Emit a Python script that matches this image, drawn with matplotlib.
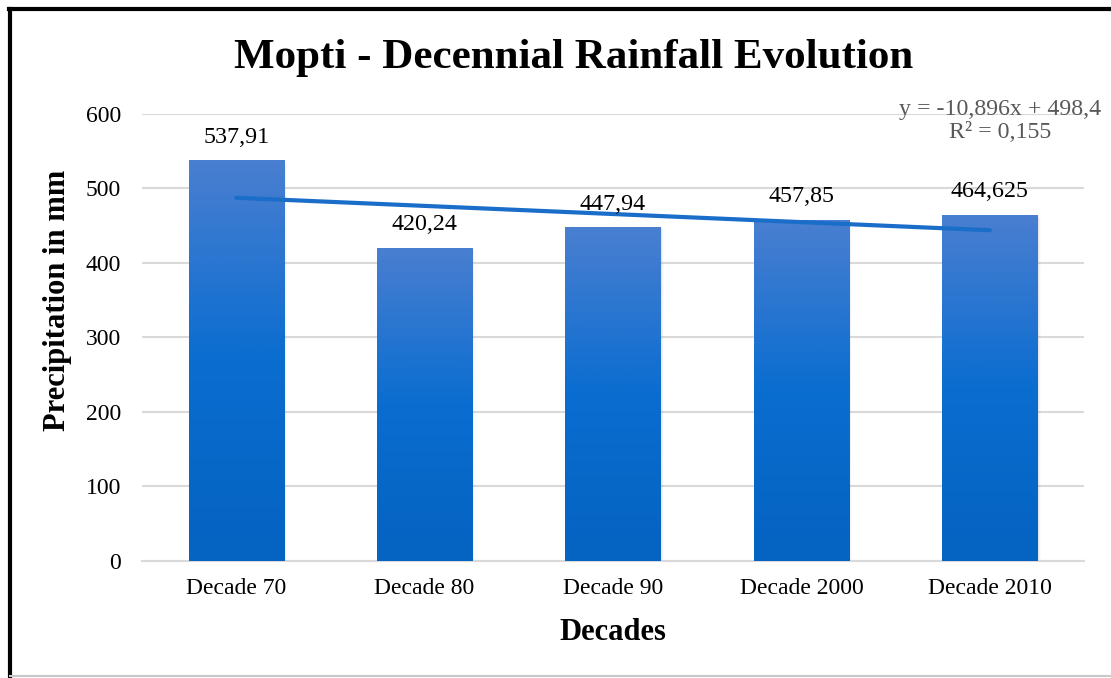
import numpy as np
import matplotlib
matplotlib.use('Agg')
import matplotlib.pyplot as plt
from matplotlib.colors import LinearSegmentedColormap
from matplotlib.patches import Rectangle
from matplotlib.lines import Line2D

# data
decades = ['Decade 70', 'Decade 80', 'Decade 90', 'Decade 2000', 'Decade 2010']
rain = [537.91, 420.24, 447.94, 457.85, 464.625]
rain_labels = ['537,91', '420,24', '447,94', '457,85', '464,625']
yticks = [0, 100, 200, 300, 400, 500, 600]
trend_slope = -10.896
trend_icpt = 498.4

plt.rcParams['font.family'] = ['Liberation Serif', 'DejaVu Serif']

fig = plt.figure(figsize=(11.11, 6.78), dpi=100)
ax = fig.add_axes([0.1278, 0.1726, 0.8479, 0.6593])

x = np.arange(len(decades))
w = 0.505
bars = ax.bar(x, rain, width=w, color='none', zorder=3)

# gradient fill + soft shadow
cmap = LinearSegmentedColormap.from_list('g', ['#0563c1', '#0a6dd0', '#4a7fd0'])
grad = np.linspace(0, 1, 256).reshape(-1, 1)
for b in bars:
    x0, h = b.get_x(), b.get_height()
    for k, a in enumerate([0.10, 0.06, 0.03]):
        ax.add_patch(Rectangle((x0 + 0.006 * (k + 1), -2 - 1.5 * k), w, h + 1, color='gray',
                               alpha=a, lw=0, zorder=2))
    im = ax.imshow(grad, extent=[x0, x0 + w, 0, h], origin='lower', cmap=cmap,
                   aspect='auto', zorder=3)
    im.set_clip_path(b)

for xi, v, lab in zip(x, rain, rain_labels):
    ax.annotate(lab, (xi, v), xytext=(0, 9), textcoords='offset points',
                ha='center', va='bottom', fontsize=17.3, color='black', zorder=5)

# linear trendline (Excel style, x = 1..5)
xt = np.array([1, len(decades)])
yt = trend_slope * xt + trend_icpt
ax.plot(xt - 1, yt, color='#1a6dc8', lw=3, solid_capstyle='round', zorder=4)

ax.set_xlim(-0.5, len(decades) - 0.5)
ax.set_ylim(0, 600)
ax.set_yticks(yticks)
ax.set_xticks(x)
ax.set_xticklabels(decades)
ax.tick_params(axis='both', length=0, labelsize=17)
ax.tick_params(axis='y', pad=15)
ax.tick_params(axis='x', pad=12)
ax.grid(axis='y', color='#d9d9d9', lw=1.5, zorder=0)
ax.set_axisbelow(True)
for s in ['top', 'right', 'left']:
    ax.spines[s].set_visible(False)
ax.spines['bottom'].set_color('#d9d9d9')
ax.spines['bottom'].set_linewidth(1.5)

ax.set_ylabel('Precipitation in mm', fontsize=22, fontweight='bold')
ax.yaxis.set_label_coords(-0.074, 0.584)
ax.set_xlabel('Decades', fontsize=22, fontweight='bold', labelpad=14)

fig.text(0.516, 0.914, 'Mopti - Decennial Rainfall Evolution', ha='center', va='center',
         fontsize=31, fontweight='bold')
fig.text(0.9, 0.8215, 'y = -10,896x + 498,4\nR² = 0,155', ha='center', va='center',
         fontsize=17.2, color='#595959', linespacing=1.1)

# frame around the chart
fig.add_artist(Line2D([0.009, 0.009], [0.0, 0.986], color='black', lw=3))
fig.add_artist(Line2D([0.008, 1.0], [0.986, 0.986], color='black', lw=3))
fig.add_artist(Line2D([0.009, 1.0], [0.003, 0.003], color='#c8c8c8', lw=1.5))

fig.savefig('out.png', dpi=100)
